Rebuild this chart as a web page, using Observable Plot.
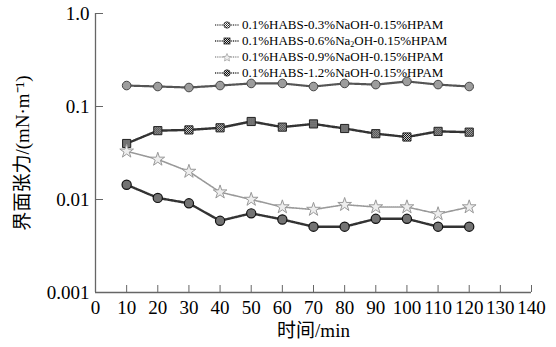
<!DOCTYPE html>
<html>
<head>
<meta charset="utf-8">
<script src="https://cdn.jsdelivr.net/npm/d3@7"></script>
<script src="https://cdn.jsdelivr.net/npm/@observablehq/plot@0.6"></script>
<style>
  html, body { margin: 0; padding: 0; background: #fff; }
  #wrap { position: relative; width: 556px; height: 347px; font-family: "Liberation Serif", "Noto Sans CJK SC", serif; }
  #legend { position: absolute; left: 214px; top: 17px; font-size: 13px; line-height: 16px; color: #000; }
  #legend .row { display: flex; align-items: center; height: 16px; white-space: nowrap; }
  #legend svg { width: 26px; height: 12px; margin-right: 2px; }
  sub { font-size: 8px; vertical-align: -2px; line-height: 0; }
</style>
</head>
<body>
<div id="wrap"><div id="legend"></div></div>
<script>
const times = [10, 20, 30, 40, 50, 60, 70, 80, 90, 100, 110, 120];
const s03 = [0.168, 0.164, 0.160, 0.168, 0.177, 0.177, 0.164, 0.177, 0.172, 0.186, 0.172, 0.164];
const s06 = [0.040, 0.055, 0.056, 0.059, 0.069, 0.060, 0.065, 0.058, 0.051, 0.047, 0.054, 0.053];
const s09 = [0.033, 0.027, 0.020, 0.012, 0.010, 0.0083, 0.0078, 0.0088, 0.0083, 0.0083, 0.0070, 0.0083];
const s12 = [0.0144, 0.0104, 0.0091, 0.0059, 0.0071, 0.0061, 0.0051, 0.0051, 0.0062, 0.0062, 0.0051, 0.0051];
const seriesNames = [
  "0.1%HABS-0.3%NaOH-0.15%HPAM",
  "0.1%HABS-0.6%Na2OH-0.15%HPAM",
  "0.1%HABS-0.9%NaOH-0.15%HPAM",
  "0.1%HABS-1.2%NaOH-0.15%HPAM"
];
const legendHtml = [
  "0.1%HABS-0.3%NaOH-0.15%HPAM",
  "0.1%HABS-0.6%Na<sub>2</sub>OH-0.15%HPAM",
  "0.1%HABS-0.9%NaOH-0.15%HPAM",
  "0.1%HABS-1.2%NaOH-0.15%HPAM"
];
const xTicks = [0, 10, 20, 30, 40, 50, 60, 70, 80, 90, 100, 110, 120, 130, 140];
const yTicks = [0.001, 0.01, 0.1, 1];
const yTickLabels = ["0.001", "0.01", "0.1", "1.0"];
const xLabel = "时间/min";
const yLabel = "界面张力/(mN·m⁻¹)";

const allSeries = [s03, s06, s09, s12];
const rows = allSeries.flatMap((vals, k) => times.map((t, i) => ({t, v: vals[i], s: seriesNames[k]})));
const sub = k => rows.filter(r => r.s === seriesNames[k]);

const styles = [
  {line: {stroke: "#555", strokeWidth: 2.2, strokeDasharray: "1.6,0.9"}, dot: {symbol: "circle", r: 4.3, fill: "url(#chkA)", stroke: "#444", strokeWidth: 1}},
  {line: {stroke: "#333", strokeWidth: 2.4, strokeDasharray: "1.6,0.9"}, dot: {symbol: "square", r: 4.6, fill: "url(#chkB)", stroke: "#222", strokeWidth: 1}},
  {line: {stroke: "#999", strokeWidth: 1.6, strokeDasharray: "1,1"}, dot: {symbol: "star", r: 4.3, fill: "#eee", stroke: "#999", strokeWidth: 1}},
  {line: {stroke: "#333", strokeWidth: 2.4, strokeDasharray: "1.6,0.9"}, dot: {symbol: "circle", r: 4.6, fill: "url(#chkB)", stroke: "#111", strokeWidth: 1.2}}
];

const marks = [
  Plot.axisX({ticks: xTicks, tickSize: -7, tickPadding: 15, tickFormat: d => String(d), label: xLabel, labelAnchor: "center", labelOffset: 44, labelArrow: false, stroke: "#666", fill: "#000"}),
  Plot.axisY({ticks: yTicks, tickSize: -8, tickPadding: 14, tickFormat: d => yTickLabels[yTicks.indexOf(d)], label: yLabel, labelAnchor: "center", labelOffset: 80, labelArrow: false, stroke: "#666", fill: "#000"}),
  Plot.ruleX([0], {stroke: "#666", strokeWidth: 1.3}),
  Plot.ruleY([0.001], {stroke: "#666", strokeWidth: 1.3})
];
styles.forEach((st, k) => {
  marks.push(Plot.line(sub(k), {x: "t", y: "v", ...st.line}));
});
styles.forEach((st, k) => {
  marks.push(Plot.dot(sub(k), {x: "t", y: "v", ...st.dot}));
});

const chart = Plot.plot({
  width: 556, height: 347,
  marginLeft: 95, marginRight: 25, marginTop: 13, marginBottom: 55,
  style: {fontFamily: "'Liberation Serif', 'Noto Sans CJK SC', serif", fontSize: "19px", color: "#000", background: "white"},
  x: {domain: [0, 140]},
  y: {type: "log", domain: [0.001, 1]},
  marks
});

// halftone patterns for marker fills
const ns = "http://www.w3.org/2000/svg";
const defs = document.createElementNS(ns, "defs");
defs.innerHTML = `
<pattern id="chkA" width="2" height="2" patternUnits="userSpaceOnUse"><rect width="2" height="2" fill="#fff"/><rect width="1" height="1" fill="#222"/><rect x="1" y="1" width="1" height="1" fill="#555"/></pattern>
<pattern id="chkB" width="2" height="2" patternUnits="userSpaceOnUse"><rect width="2" height="2" fill="#ddd"/><rect width="1" height="1" fill="#000"/><rect x="1" y="1" width="1" height="1" fill="#111"/></pattern>`;
chart.insertBefore(defs, chart.firstChild);
document.getElementById("wrap").insertBefore(chart, document.getElementById("legend"));

// legend
const leg = document.getElementById("legend");
styles.forEach((st, k) => {
  const row = document.createElement("div");
  row.className = "row";
  const sym = st.dot.symbol;
  let m;
  if (sym === "square") m = `<rect x="10" y="3" width="6" height="6" fill="url(#chkB)" stroke="#222" stroke-width="0.8"/>`;
  else if (sym === "star") m = `<path d="M13,2.5 L14.2,5.3 L17,5.6 L14.9,7.4 L15.5,10 L13,8.6 L10.5,10 L11.1,7.4 L9,5.6 L11.8,5.3Z" fill="#eee" stroke="#999" stroke-width="0.7"/>`;
  else m = `<circle cx="13" cy="6" r="3.2" fill="${k === 0 ? "url(#chkA)" : "url(#chkB)"}" stroke="#333" stroke-width="0.8"/>`;
  row.innerHTML = `<svg viewBox="0 0 26 12"><line x1="1" y1="6" x2="25" y2="6" stroke="${st.line.stroke}" stroke-width="1.4" stroke-dasharray="1,0.8"/>${m}</svg><span>${legendHtml[k]}</span>`;
  leg.appendChild(row);
});
</script>
</body>
</html>
